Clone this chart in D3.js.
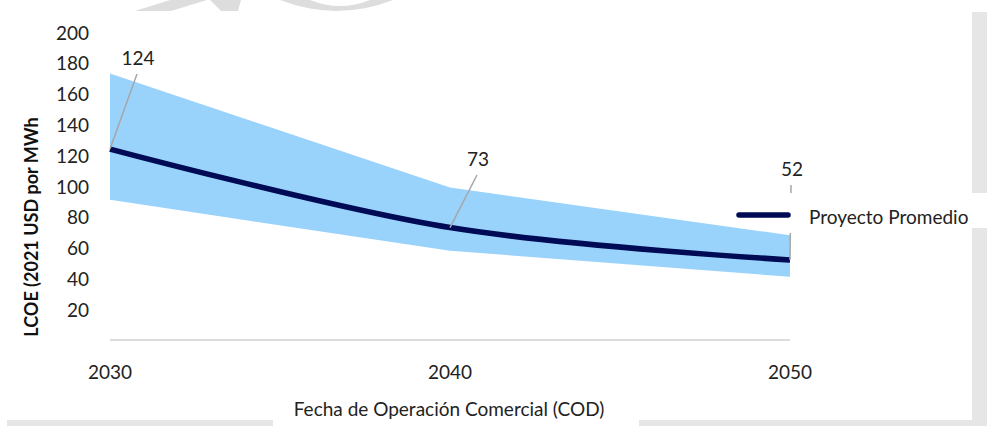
<!DOCTYPE html>
<html><head><meta charset="utf-8">
<script src="https://cdn.jsdelivr.net/npm/d3@7"></script>
<style>html,body{margin:0;padding:0;background:#fff;}svg{display:block;}</style>
</head><body><svg id="c" width="987" height="426"></svg>
<script>
const years = [2030, 2040, 2050];
const average = [124, 73, 52];
const upper = [173, 99, 68];
const lower = [91, 58, 41];
const yTicks = [20, 40, 60, 80, 100, 120, 140, 160, 180, 200];
const seriesName = "Proyecto Promedio";
const yTitle = "LCOE (2021 USD por MWh";
const xTitle = "Fecha de Operación Comercial (COD)";

const font = "Lato, 'Open Sans', sans-serif";
const svg = d3.select("#c");
const x = d3.scaleLinear().domain([2030, 2050]).range([110, 790]);
const y = d3.scaleLinear().domain([0, 200]).range([340, 32]);

// decorative background shapes (watermark & frame)
const deco = svg.append("g").attr("fill", "#dddddd");
deco.append("path").attr("d", "M135,11 L171,11 L207,0 L170,0 Z");
deco.append("path").attr("d", "M210,0 L241,0 L238,11 L221,11 Z");
deco.append("path").attr("d", "M280,0 Q337,22 393,0 L370,0 Q340,12 310,0 Z");
const frame = svg.append("g").attr("fill", "#e6e6e6");
frame.append("rect").attr("x", 972).attr("y", 12).attr("width", 15).attr("height", 181);
frame.append("rect").attr("x", 972).attr("y", 228).attr("width", 15).attr("height", 198);
frame.append("rect").attr("x", 7).attr("y", 420).attr("width", 266).attr("height", 6);
frame.append("rect").attr("x", 639).attr("y", 420).attr("width", 348).attr("height", 6);

// band
const band = years.map((yr, i) => ({yr, lo: lower[i], hi: upper[i]}));
svg.append("path").datum(band)
  .attr("fill", "#99d3fc")
  .attr("d", d3.area().x(d => x(d.yr)).y0(d => y(d.lo)).y1(d => y(d.hi)));

// x axis line
svg.append("line").attr("x1", x(2030)).attr("x2", x(2050)).attr("y1", y(0)).attr("y2", y(0))
  .attr("stroke", "#d0d0d0").attr("stroke-width", 1.5);

// average line
const pts = years.map((yr, i) => ({yr, v: average[i]}));
svg.append("path").datum(pts)
  .attr("fill", "none").attr("stroke", "#000a55").attr("stroke-width", 5.5)
  .attr("d", d3.line().x(d => x(d.yr)).y(d => y(d.v)).curve(d3.curveCatmullRom.alpha(0)));

// data labels with leaders
const labelPos = [{dx: 28, ly: 57}, {dx: 28, ly: 158}, {dx: 2, ly: 168}];
pts.forEach((d, i) => {
  const px = x(d.yr), py = y(d.v);
  const lx = px + labelPos[i].dx, ly = labelPos[i].ly;
  svg.append("line").attr("x1", lx - 1).attr("y1", ly + 17).attr("x2", px).attr("y2", py)
    .attr("stroke", "#a6a6a6").attr("stroke-width", 1.5);
  svg.append("text").attr("x", lx).attr("y", ly).attr("text-anchor", "middle")
    .attr("dominant-baseline", "central").attr("font-family", font).attr("font-size", 19)
    .attr("fill", "#222").text(d.v);
});

// legend
const lg = svg.append("g");
lg.append("rect").attr("x", 786).attr("y", 193).attr("width", 184).attr("height", 40).attr("fill", "#fff");
lg.append("line").attr("x1", 739).attr("x2", 788).attr("y1", 215).attr("y2", 215)
  .attr("stroke", "#000a55").attr("stroke-width", 5.5).attr("stroke-linecap", "round");
lg.append("text").attr("x", 809).attr("y", 216).attr("dominant-baseline", "central")
  .attr("font-family", font).attr("font-size", 19).attr("fill", "#222").text(seriesName);

// y tick labels
svg.append("g").selectAll("text").data(yTicks).join("text")
  .attr("x", 89).attr("y", d => y(d)).attr("text-anchor", "end").attr("dominant-baseline", "central")
  .attr("font-family", font).attr("font-size", 19).attr("fill", "#222").text(d => d);

// x tick labels
svg.append("g").selectAll("text").data(years).join("text")
  .attr("x", d => x(d)).attr("y", 371).attr("text-anchor", "middle").attr("dominant-baseline", "central")
  .attr("font-family", font).attr("font-size", 19).attr("fill", "#222").text(d => d);

// axis titles
svg.append("text").attr("transform", "translate(31,227) rotate(-90)")
  .attr("text-anchor", "middle").attr("dominant-baseline", "central")
  .attr("font-family", font).attr("font-size", 18).attr("font-weight", "bold").attr("fill", "#111")
  .text(yTitle);
svg.append("text").attr("x", 449).attr("y", 408).attr("text-anchor", "middle").attr("dominant-baseline", "central")
  .attr("font-family", font).attr("font-size", 19).attr("fill", "#222").text(xTitle);
</script>
</body></html>
